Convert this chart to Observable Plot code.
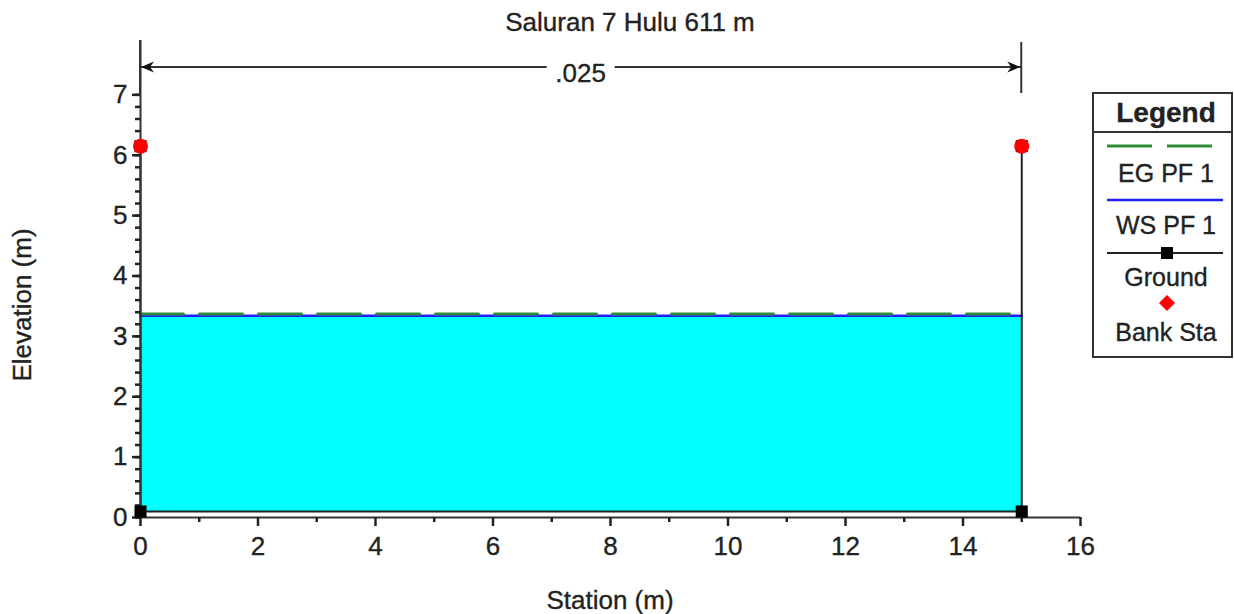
<!DOCTYPE html>
<html>
<head>
<meta charset="utf-8">
<script src="https://cdn.jsdelivr.net/npm/d3@7"></script>
<script src="https://cdn.jsdelivr.net/npm/@observablehq/plot@0.6"></script>
<style>
  html, body { margin: 0; padding: 0; background: #fff; }
  #chart { position: relative; width: 1234px; height: 614px; }
  #chart svg text { stroke: #222; stroke-width: 0.35px; }
</style>
</head>
<body>
<div id="chart"></div>
<script>
// ---- data ----
const title = "Saluran 7 Hulu 611 m";
const xLabel = "Station (m)";
const yLabel = "Elevation (m)";
const groundStation = [0, 0, 15, 15];
const groundElev = [6.15, 0.1, 0.1, 6.15];
const bankStation = [0, 15];
const bankElev = [6.15, 6.15];
const wsElev = 3.34;   // WS PF 1
const egElev = 3.37;   // EG PF 1
const waterStations = [0, 15];
const nValue = ".025";
const nStations = [0, 15];
const xTicks = [0, 2, 4, 6, 8, 10, 12, 14, 16];
const xMinorTicks = [1, 3, 5, 7, 9, 11, 13, 15];
const yTicks = [0, 1, 2, 3, 4, 5, 6, 7];
const yMinorTicks = d3.range(0, 7.001, 0.2).map(v => +v.toFixed(1));
const legendItems = ["EG PF 1", "WS PF 1", "Ground", "Bank Sta"];

const ground = groundStation.map((s, i) => ({s, e: groundElev[i]}));
const banks = bankStation.map((s, i) => ({s, e: bankElev[i]}));
const water = waterStations.map(s => ({s, lo: groundElev[1], hi: wsElev}));

const FONT = "'Liberation Sans', Arial, sans-serif";
const TXT = "#222";

const plot = Plot.plot({
  width: 1234,
  height: 614,
  marginLeft: 140,
  marginRight: 154,
  marginTop: 40,
  marginBottom: 97,
  style: {fontFamily: FONT, fontSize: "26px", color: TXT, background: "#fff", overflow: "visible"},
  x: {domain: [0, 16]},
  y: {domain: [0, 7.9]},
  marks: [
    Plot.areaY(water, {x: "s", y1: "lo", y2: "hi", fill: "#00ffff"}),
    Plot.lineY(water, {x: "s", y: "hi", stroke: "#2020ff", strokeWidth: 2.5}),
    Plot.lineY(waterStations.map(s => ({s, e: egElev})), {x: "s", y: "e", stroke: "#2e8b3a", strokeWidth: 3, strokeDasharray: "43,16"}),
    Plot.line(ground, {x: "s", y: "e", stroke: "#222", strokeWidth: 2}),
    Plot.ruleY([0], {stroke: "#333", strokeWidth: 2}),
    Plot.ruleX([0], {stroke: "#333", strokeWidth: 2}),
    Plot.axisX(xTicks, {tickSize: 9, tickPadding: 10, tickFormat: d => String(d), label: null, stroke: "#222", strokeWidth: 2.5, fill: TXT}),
    Plot.axisX(xMinorTicks, {tickSize: 5, tickFormat: () => "", label: null, stroke: "#222", strokeWidth: 2.5}),
    Plot.axisY(yTicks, {tickSize: 8, tickPadding: 5, tickFormat: d => String(d), label: null, stroke: "#222", strokeWidth: 2.5, fill: TXT}),
    Plot.axisY(yMinorTicks, {tickSize: 5, tickFormat: () => "", label: null, stroke: "#222", strokeWidth: 2.5}),
    Plot.dot(ground, {x: "s", y: "e", symbol: "square", fill: "#000", r: 6.8}),
    Plot.dot(banks, {x: "s", y: "e", symbol: "circle", fill: "#ff0000", r: 7.5})
  ]
});

document.getElementById("chart").appendChild(plot);

const svg = d3.select(plot);
const xs = plot.scale("x");
const X = v => xs.apply(v);

// title
svg.append("text").attr("x", 630).attr("y", 31).attr("text-anchor", "middle")
  .attr("font-family", FONT).attr("font-size", 26).attr("fill", TXT).text(title);

// axis labels
svg.append("text").attr("x", 610).attr("y", 609).attr("text-anchor", "middle")
  .attr("font-family", FONT).attr("font-size", 26).attr("fill", TXT).text(xLabel);
svg.append("text").attr("transform", "translate(31,305) rotate(-90)").attr("text-anchor", "middle")
  .attr("font-family", FONT).attr("font-size", 26).attr("fill", TXT).text(yLabel);

// Manning's n bracket
const bx0 = X(nStations[0]), bx1 = X(nStations[1]);
const by = 67, cx = (bx0 + bx1) / 2;
const g = svg.append("g").attr("stroke", "#333").attr("stroke-width", 2);
g.append("line").attr("x1", bx0).attr("x2", bx0).attr("y1", 40).attr("y2", 93);
g.append("line").attr("x1", bx1).attr("x2", bx1).attr("y1", 42).attr("y2", 93);
g.append("line").attr("x1", bx0).attr("x2", cx - 34).attr("y1", by).attr("y2", by);
g.append("line").attr("x1", cx + 34).attr("x2", bx1).attr("y1", by).attr("y2", by);
svg.append("path").attr("fill", "#111")
  .attr("d", `M${bx0 + 1},${by} L${bx0 + 14},${by - 5.5} L${bx0 + 10},${by} L${bx0 + 14},${by + 5.5} Z`);
svg.append("path").attr("fill", "#111")
  .attr("d", `M${bx1 - 1},${by} L${bx1 - 14},${by - 5.5} L${bx1 - 10},${by} L${bx1 - 14},${by + 5.5} Z`);
svg.append("text").attr("x", cx).attr("y", 82).attr("text-anchor", "middle")
  .attr("font-family", FONT).attr("font-size", 26).attr("fill", TXT).text(nValue);

// legend
const L = svg.append("g").attr("font-family", FONT).attr("fill", TXT);
L.append("rect").attr("x", 1093).attr("y", 93).attr("width", 139).attr("height", 264)
  .attr("fill", "#fff").attr("stroke", "#333").attr("stroke-width", 2);
L.append("line").attr("x1", 1093).attr("x2", 1232).attr("y1", 132).attr("y2", 132)
  .attr("stroke", "#333").attr("stroke-width", 2);
L.append("text").attr("x", 1166).attr("y", 122).attr("text-anchor", "middle")
  .attr("font-weight", "bold").attr("font-size", 28).text("Legend");
L.append("line").attr("x1", 1107).attr("x2", 1223).attr("y1", 146).attr("y2", 146)
  .attr("stroke", "#2e8b3a").attr("stroke-width", 3).attr("stroke-dasharray", "45,15");
L.append("line").attr("x1", 1107).attr("x2", 1223).attr("y1", 200).attr("y2", 200)
  .attr("stroke", "#2020ff").attr("stroke-width", 2.5);
L.append("line").attr("x1", 1107).attr("x2", 1223).attr("y1", 253).attr("y2", 253)
  .attr("stroke", "#222").attr("stroke-width", 2);
L.append("rect").attr("x", 1161).attr("y", 247).attr("width", 12).attr("height", 12).attr("fill", "#000");
L.append("path").attr("d", "M1167,295 L1175,303 L1167,311 L1159,303 Z").attr("fill", "#ff0000");
const ly = [182, 234, 286, 341];
legendItems.forEach((t, i) => {
  L.append("text").attr("x", 1166).attr("y", ly[i]).attr("text-anchor", "middle")
    .attr("font-size", 25).text(t);
});
</script>
</body>
</html>
